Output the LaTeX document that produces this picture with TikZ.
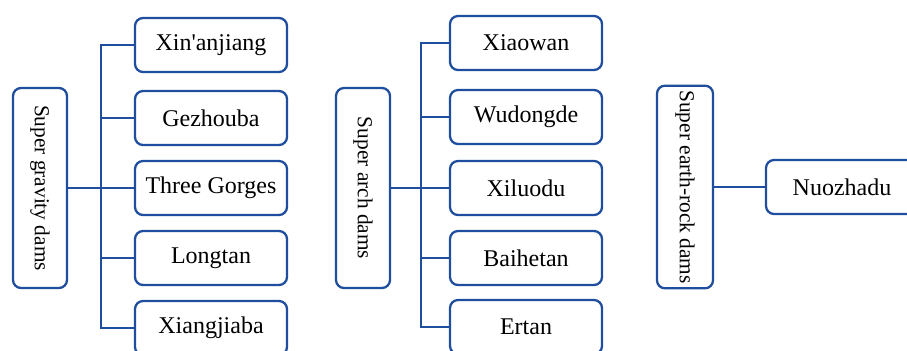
\documentclass[tikz,border=0pt]{standalone}
\usepackage{fontspec}
\setmainfont{Liberation Serif}
\newfontfamily\plainserif{Liberation Serif}
\usepackage{tikz}

\definecolor{damblue}{RGB}{32,78,158}
\newcommand{\straightapos}{{\plainserif'}}

\begin{document}
\begin{tikzpicture}[x=0.75pt,y=-0.75pt,
        dam/.style={draw=damblue, line width=1.7pt, rounded corners=6pt, fill=white,
            minimum width=114pt, minimum height=40.5pt, font=\fontsize{18}{21}\selectfont},
        group/.style={draw=damblue, line width=1.7pt, rounded corners=6pt, fill=white,
            rotate=-90, minimum height=40.5pt, inner sep=1pt, font=\fontsize{16}{19}\selectfont},
        link/.style={draw=damblue, line width=1.7pt}]
        \useasboundingbox (0,0) rectangle (907,350);

        % gravity dams
        \node[group, minimum width=150pt] (gravity) at (40,188) {Super gravity dams};
        \node[dam] (xinanjiang) at (211,45) {Xin\straightapos anjiang};
        \node[dam] (gezhouba) at (211,118) {Gezhouba};
        \node[dam] (threegorges) at (211,188) {Three Gorges};
        \node[dam] (longtan) at (211,258) {Longtan};
        \node[dam] (xiangjiaba) at (211,328) {Xiangjiaba};
        \coordinate (gtrunk) at (101,188);

        % arch dams
        \node[group, minimum width=150pt] (arch) at (363,188) {Super arch dams};
        \node[dam] (xiaowan) at (526,43) {Xiaowan};
        \node[dam] (wudongde) at (526,117) {Wudongde};
        \node[dam] (xiluodu) at (526,188) {Xiluodu};
        \node[dam] (baihetan) at (526,258) {Baihetan};
        \node[dam] (ertan) at (526,327) {Ertan};
        \coordinate (atrunk) at (421,188);

        % earth-rock dams
        \node[group, minimum width=152pt, minimum height=42pt] (earthrock) at (685,187) {Super earth-rock dams};
        \node[dam] (nuozhadu) at (842,187) {Nuozhadu};

        % rotated boxes: north anchor is the right side
        \draw[link] (gravity.north) -- (gtrunk);
        \draw[link] (xinanjiang.west) -| (gtrunk |- xiangjiaba.west) -- (xiangjiaba.west);
        \foreach \d in {gezhouba,threegorges,longtan}
            \draw[link] (\d.west) -- (\d.west -| gtrunk);

        \draw[link] (arch.north) -- (atrunk);
        \draw[link] (xiaowan.west) -| (atrunk |- ertan.west) -- (ertan.west);
        \foreach \d in {wudongde,xiluodu,baihetan}
            \draw[link] (\d.west) -- (\d.west -| atrunk);

        \draw[link] (earthrock.north) -- (nuozhadu.west);
\end{tikzpicture}
\end{document}
